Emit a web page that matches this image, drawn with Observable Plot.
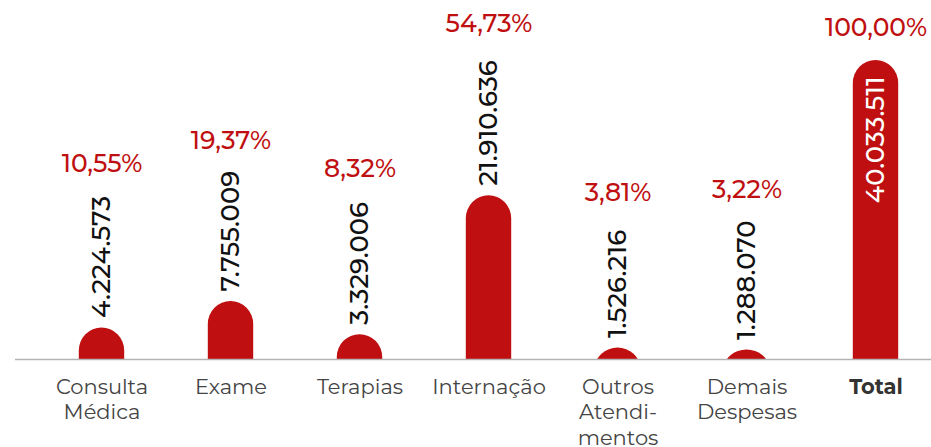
<!DOCTYPE html>
<html>
<head>
<meta charset="utf-8">
<script src="https://cdn.jsdelivr.net/npm/d3@7"></script>
<script src="https://cdn.jsdelivr.net/npm/@observablehq/plot@0.6"></script>
<style>
  body { margin: 0; background: #fff; }
  #chart svg { display: block; }
</style>
</head>
<body>
<div id="chart"></div>
<script>
const categories = ["Consulta Médica", "Exame", "Terapias", "Internação", "Outros Atendimentos", "Demais Despesas", "Total"];
const tickLabels = ["Consulta\nMédica", "Exame", "Terapias", "Internação", "Outros\nAtendi-\nmentos", "Demais\nDespesas", "Total"];
const values = [4224573, 7755009, 3329006, 21910636, 1526216, 1288070, 40033511];
const percents = ["10,55%", "19,37%", "8,32%", "54,73%", "3,81%", "3,22%", "100,00%"];

const RED = "#c00f10";
const FONT = "Montserrat, Inter, sans-serif";
const numFont = 26;
const numWeight = 500;

const loc = d3.formatLocale({decimal: ",", thousands: ".", grouping: [3], currency: ["", ""]});
const fmt = loc.format(",d");

const data = categories.map((c, i) => ({cat: c, label: tickLabels[i], value: values[i], pct: percents[i], total: c === "Total"}));

const ctx = document.createElement("canvas").getContext("2d");
ctx.font = `${numWeight} ${numFont}px Inter`;
const textLen = s => ctx.measureText(s).width;

const W = 931, H = 447, marginBottom = 88;
const yMax = 48.06e6;

const pctMarks = data.map(d => Plot.text([d], {
  x: "cat", y: "value", text: "pct",
  fill: RED, fontSize: 25, fontWeight: 500, fontFamily: FONT,
  textAnchor: "middle", lineAnchor: "middle",
  dy: d.total ? -32 : -(10 + textLen(fmt(d.value)) + 28)
}));

const chart = Plot.plot({
  width: W, height: H,
  marginTop: 0, marginLeft: 15, marginRight: 0, marginBottom,
  style: {fontFamily: FONT, background: "#fff"},
  x: {type: "band", domain: categories, range: [35.2, 942.8], padding: 0, axis: null},
  y: {domain: [0, yMax], axis: null},
  marks: [
    Plot.rectY(data, {x: "cat", y1: () => -4e6, y2: "value", fill: RED, rx: 23, insetLeft: 41.8, insetRight: 41.8, clip: "frame"}),
    Plot.ruleY([0], {stroke: "#b3b3b3", strokeWidth: 1.5}),
    Plot.text(data.filter(d => !d.total), {
      x: "cat", y: "value", text: d => fmt(d.value), rotate: -90,
      textAnchor: "start", lineAnchor: "middle", dy: -10,
      fill: "#111", fontSize: numFont, fontWeight: numWeight, fontFamily: FONT
    }),
    Plot.text(data.filter(d => d.total), {
      x: "cat", y: "value", text: d => fmt(d.value), rotate: -90,
      textAnchor: "end", lineAnchor: "middle", dy: 16,
      fill: "#fff", fontSize: numFont, fontWeight: numWeight, fontFamily: FONT
    }),
    ...pctMarks,
    Plot.text(data.filter(d => !d.total), {
      x: "cat", text: "label", frameAnchor: "bottom", lineAnchor: "top", dy: 16,
      fill: "#444", fontSize: 21, lineHeight: 1.22, fontFamily: FONT
    }),
    Plot.text(data.filter(d => d.total), {
      x: "cat", text: "label", frameAnchor: "bottom", lineAnchor: "top", dy: 16,
      fill: "#333", fontSize: 21, fontWeight: "bold", lineHeight: 1.22, fontFamily: FONT
    })
  ]
});
document.getElementById("chart").appendChild(chart);
</script>
</body>
</html>
